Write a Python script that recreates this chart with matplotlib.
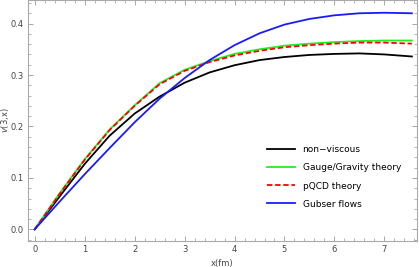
import matplotlib
matplotlib.use("Agg")
import matplotlib.pyplot as plt
from matplotlib.ticker import MultipleLocator

# values
x = [0, 0.5, 1.0, 1.5, 2.0, 2.5, 3.0, 3.5, 4.0, 4.5, 5.0, 5.5, 6.0, 6.5, 7.0, 7.55]
non_viscous = [0, 0.064, 0.127, 0.182, 0.225, 0.258, 0.285, 0.305, 0.319, 0.329,
               0.335, 0.339, 0.341, 0.342, 0.340, 0.336]
gauge_gravity = [0, 0.070, 0.136, 0.194, 0.241, 0.284, 0.310, 0.327, 0.341, 0.350,
                 0.357, 0.361, 0.364, 0.366, 0.367, 0.367]
pqcd = [0, 0.069, 0.135, 0.193, 0.240, 0.282, 0.308, 0.325, 0.338, 0.347,
        0.354, 0.358, 0.361, 0.363, 0.363, 0.361]
gubser = [0, 0.054, 0.107, 0.158, 0.208, 0.254, 0.294, 0.329, 0.358, 0.381,
          0.398, 0.409, 0.416, 0.420, 0.421, 0.420]

labels = ["non\u2212viscous", "Gauge/Gravity theory", "pQCD theory", "Gubser flows"]

fig = plt.figure(figsize=(4.19, 2.67), dpi=100)
ax = fig.add_axes([0.066, 0.0985, 0.929, 0.9])

ax.plot(x, non_viscous, color="black", lw=1.3, label=labels[0])
ax.plot(x, gauge_gravity, color="#22ee22", lw=1.3, label=labels[1])
ax.plot(x, pqcd, color="red", lw=1.3, ls=(0, (3, 1.5)), label=labels[2])
ax.plot(x, gubser, color="#1a1aff", lw=1.3, label=labels[3])

ax.set_xlim(-0.14, 7.65)
ax.set_ylim(-0.022, 0.445)

ax.xaxis.set_major_locator(MultipleLocator(1))
ax.xaxis.set_minor_locator(MultipleLocator(0.2))
ax.yaxis.set_major_locator(MultipleLocator(0.1))
ax.yaxis.set_minor_locator(MultipleLocator(0.02))
ax.yaxis.set_major_formatter(matplotlib.ticker.FormatStrFormatter("%.1f"))

ax.tick_params(which="both", direction="in", top=True, right=True,
               color="#999999", labelsize=6, labelcolor="#444444", pad=3)
ax.tick_params(which="major", length=3.5, width=0.6)
ax.tick_params(which="minor", length=2, width=0.5)
for s in ax.spines.values():
    s.set_color("#aaaaaa")
    s.set_linewidth(0.8)

ax.set_xlabel("x(fm)", fontsize=6, color="#444444")
ax.set_ylabel("$v$(3,x)", fontsize=6, color="#444444")
ax.xaxis.set_label_coords(0.5, -0.075)
ax.yaxis.set_label_coords(-0.043, 0.5)

leg = ax.legend(loc="lower right", bbox_to_anchor=(0.98, 0.1), frameon=False,
                fontsize=6.5, handlelength=3.2, handletextpad=0.8, labelspacing=1.0)

fig.savefig("out.png", dpi=100)
